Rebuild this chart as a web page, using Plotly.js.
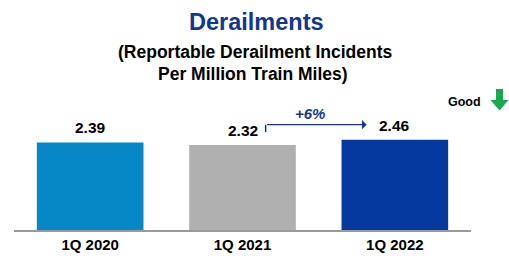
<!DOCTYPE html>
<html>
<head>
<meta charset="utf-8">
<script src="https://cdn.plot.ly/plotly-3.0.1.min.js"></script>
<style>html,body{margin:0;padding:0;background:#fff;}#chart{width:509px;height:258px;}</style>
</head>
<body>
<div id="chart"></div>
<script>
const categories = ["1Q 2020", "1Q 2021", "1Q 2022"];
const values = [2.39, 2.32, 2.46];
const valueLabels = ["2.39", "2.32", "2.46"];
const barColors = ["#0687c6", "#b0b0b0", "#0639a0"];
const changeLabel = "+6%";

const W = 509, H = 258;
const M = {l: 14, r: 38, t: 100, b: 28};
const PW = W - M.l - M.r, PH = H - M.t - M.b;
const px = x => (x - M.l) / PW;
const py = y => (H - M.b - y) / PH;
const FONT = "Liberation Sans, Arial, sans-serif";
const NAVY = "#13368f";

const trace = {
  type: "bar",
  x: categories,
  y: values,
  marker: {color: barColors, line: {width: 0}},
  hoverinfo: "none"
};

const annotations = [];
categories.forEach((c, i) => {
  annotations.push({
    x: c, y: values[i], xref: "x", yref: "y",
    text: valueLabels[i], showarrow: false,
    yanchor: "middle", yshift: 14.5,
    font: {family: FONT, size: 15.5, color: "#000", weight: "bold"}
  });
});
// title and subtitle
annotations.push({xref: "paper", y: py(22.5), yref: "paper", xanchor: "center", yanchor: "middle",
  x: px(256), text: "Derailments", showarrow: false,
  font: {family: FONT, size: 23.5, color: NAVY, weight: "bold"}});
annotations.push({x: px(255), xref: "paper", y: py(52.5), yref: "paper", xanchor: "center", yanchor: "middle",
  text: "(Reportable Derailment Incidents", showarrow: false,
  font: {family: FONT, size: 17.5, color: "#000", weight: "bold"}});
annotations.push({x: px(253), xref: "paper", y: py(73.5), yref: "paper", xanchor: "center", yanchor: "middle",
  text: "Per Million Train Miles)", showarrow: false,
  font: {family: FONT, size: 17.5, color: "#000", weight: "bold"}});
// Good label
annotations.push({x: px(464), xref: "paper", y: py(101.5), yref: "paper", xanchor: "center", yanchor: "middle",
  text: "Good", showarrow: false,
  font: {family: FONT, size: 12.5, color: "#000", weight: "bold"}});
// change arrow: from 2021 bar to 2022 bar
const arrowY = values[1] + 0.555;
const arrowX0 = 1.152, arrowX1 = 1.815;
annotations.push({x: arrowX1, y: arrowY, xref: "x", yref: "y",
  ax: arrowX0, ay: arrowY, axref: "x", ayref: "y",
  showarrow: true, arrowhead: 1, arrowsize: 1.1, arrowwidth: 1.4, arrowcolor: NAVY, text: ""});
annotations.push({x: 1.44, y: arrowY, xref: "x", yref: "y", yanchor: "middle", yshift: 11.5,
  text: "<i>" + changeLabel + "</i>", showarrow: false,
  font: {family: FONT, size: 15, color: NAVY, weight: "bold"}});

const shapes = [
  {type: "line", xref: "x", yref: "y", x0: arrowX0, x1: arrowX0, y0: arrowY, y1: values[1] + 0.35,
   line: {color: NAVY, width: 1.5}},
  {type: "path", xref: "paper", yref: "paper", fillcolor: "#1aa84b", line: {width: 0},
   path: `M ${px(496)} ${py(89)} L ${px(503)} ${py(89)} L ${px(503)} ${py(100)} L ${px(508.5)} ${py(100)} L ${px(499.5)} ${py(110.5)} L ${px(490.5)} ${py(100)} L ${px(496)} ${py(100)} Z`}
];

const layout = {
  width: W, height: H,
  margin: M,
  paper_bgcolor: "#fff", plot_bgcolor: "#fff",
  showlegend: false,
  bargap: 0.3,
  xaxis: {
    type: "category",
    showline: true, linecolor: "#9a9a9a", linewidth: 1.5,
    showgrid: false, zeroline: false, ticks: "",
    ticklabelstandoff: 5.5,
    tickfont: {family: FONT, size: 15, color: "#000", weight: "bold"},
    fixedrange: true
  },
  yaxis: {visible: false, range: [0, PH / 36.64], fixedrange: true},
  annotations: annotations,
  shapes: shapes
};

Plotly.newPlot("chart", [trace], layout, {displayModeBar: false, staticPlot: true});
</script>
</body>
</html>
